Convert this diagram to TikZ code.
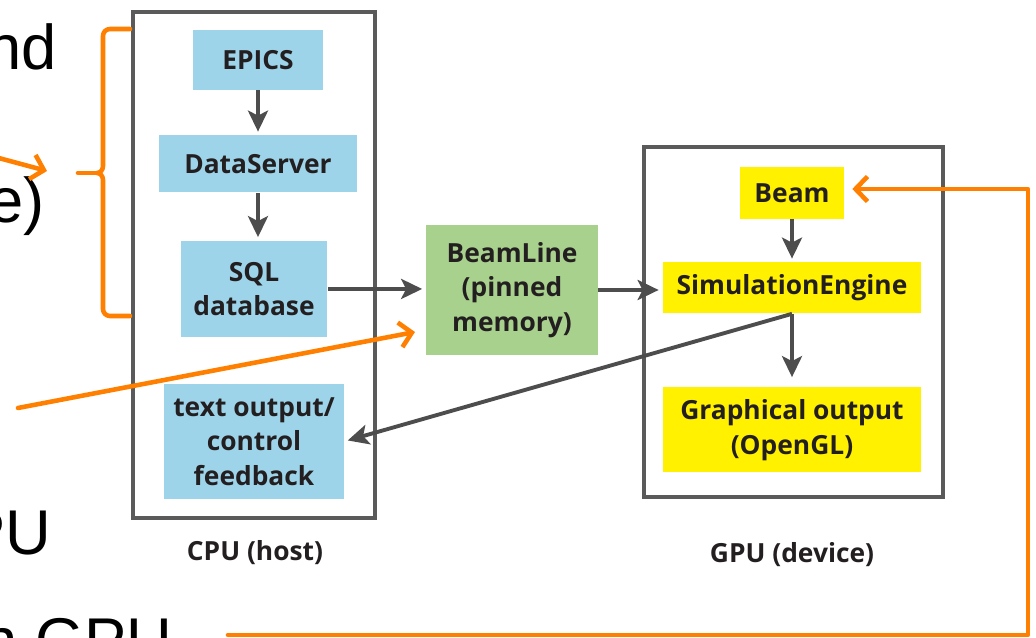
\documentclass[tikz,border=0pt]{standalone}
\usepackage{fontspec}
\setmainfont{Open Sans}
\newfontfamily\slidefont{Liberation Sans}
\usetikzlibrary{positioning, arrows.meta}

\definecolor{hostblue}{HTML}{9DD4E9}
\definecolor{pinnedgreen}{HTML}{A9D18E}
\definecolor{deviceyellow}{HTML}{FFF100}
\definecolor{framegrey}{HTML}{5A5A5A}
\definecolor{flowgrey}{HTML}{4D4D4D}
\definecolor{noteorange}{HTML}{FF8000}
\definecolor{boxtext}{HTML}{231F20}

\begin{document}
\begin{tikzpicture}[x=0.02cm, y=-0.02cm, on grid, node distance=2cm,
  box/.style={inner sep=0pt, align=center, text=boxtext,
    font=\fontsize{15}{19.6}\selectfont\bfseries},
  host/.style={box, fill=hostblue},
  pinned/.style={box, fill=pinnedgreen},
  device/.style={box, fill=deviceyellow},
  frame/.style={draw=framegrey, line width=2pt, inner sep=0pt},
  flow/.style={draw=flowgrey, line width=2.2pt, shorten >=2pt,
    -{Stealth[length=0.42cm, width=0.4cm, inset=0.1cm]}},
  note/.style={draw=noteorange, line width=2.6pt, line cap=round, line join=round},
  notearrow/.style={note, -{Straight Barb[length=0.24cm, width=0.5cm]}},
  slide/.style={inner sep=0pt, anchor=base east,
    font=\slidefont\fontsize{36}{43}\selectfont},
  caption/.style={text=boxtext, font=\fontsize{15}{17}\selectfont\bfseries}]
  \useasboundingbox (0,0) rectangle (1036,638);
  \clip (0,0) rectangle (1036,638);
  \fill[white] (0,0) rectangle (1036,638);

  % slide text behind the figure
  \node[slide] (nd)    at (57,70)   {nd};
  \node[slide] (paren) at (45,223)  {e)};
  \node[slide] (pu)    at (52,555)  {PU};
  \node[slide] (ngpu)  at (173,663) {n GPU};

  % host and device frames
  \node[frame, minimum width=4.84cm, minimum height=10.12cm] (cpu) at (254,265) {};
  \node[frame, minimum width=5.98cm, minimum height=7cm]     (gpu) at (793.5,322) {};
  \node[caption] (cpulabel) at (255,553) {CPU (host)};
  \node[caption] (gpulabel) at (792,555) {GPU (device)};

  \node[host, minimum width=2.6cm, minimum height=1.2cm]   (epics) at (258,60) {EPICS};
  \node[host, minimum width=3.98cm, minimum height=1.14cm] (dataserver) [below=2.08cm of epics] {DataServer};
  \node[host, minimum width=2.94cm, minimum height=1.92cm, xshift=-0.08cm] (sql) [below=2.5cm of dataserver] {SQL\\database};
  \node[host, minimum width=3.6cm, minimum height=2.3cm]   (textout) [below=3.05cm of sql] {text output/\\control\\feedback};
  \node[pinned, minimum width=3.44cm, minimum height=2.6cm] (beamline) at (512,290) {BeamLine\\(pinned\\memory)};
  \node[device, minimum width=2.08cm, minimum height=1.04cm] (beam) at (792,193) {Beam};
  \node[device, minimum width=5.18cm, minimum height=1.02cm] (sim) [below=1.9cm of beam] {SimulationEngine};
  \node[device, minimum width=5.16cm, minimum height=1.7cm]  (graph) [below=2.84cm of sim] {Graphical output\\(OpenGL)};

  \draw[flow] (epics) -- (dataserver);
  \draw[flow] (dataserver.south) -- (dataserver.south |- sql.north);
  \draw[flow] (sql.east) -- (sql.east -| beamline.west);
  \draw[flow] (beamline.east) -- (beamline.east -| sim.west);
  \draw[flow] (beam) -- (sim);
  \draw[flow, shorten >=0.2cm] (sim.south) -- (graph.north);
  \draw[flow] (sim.south) -- (textout.east);

  % orange annotations
  \coordinate (notea)    at (-5,157);
  \coordinate (noteatip) at (47,171);
  \coordinate (noteb)    at (18,408);
  \coordinate (notebtip) at (415,332);
  \coordinate (fbstart)  at (228,635);
  \coordinate (fbturn)   at (1028,189);
  \draw[notearrow] (notea) -- (noteatip);
  \draw[notearrow] (noteb) -- (notebtip);
  \draw[notearrow, shorten >=0.16cm] (fbstart) -| (fbturn) -- (fbturn -| beam.east);
  \draw[note] (130,29) -- (110,29) to[out=180,in=90] (103,36) -- (103,166)
    to[out=-90,in=0] (97,173) to[out=0,in=90] (103,180) -- (103,309)
    to[out=-90,in=180] (110,316) -- (130,316);
  \draw[note] (97,173) -- (78,173);
\end{tikzpicture}
\end{document}
